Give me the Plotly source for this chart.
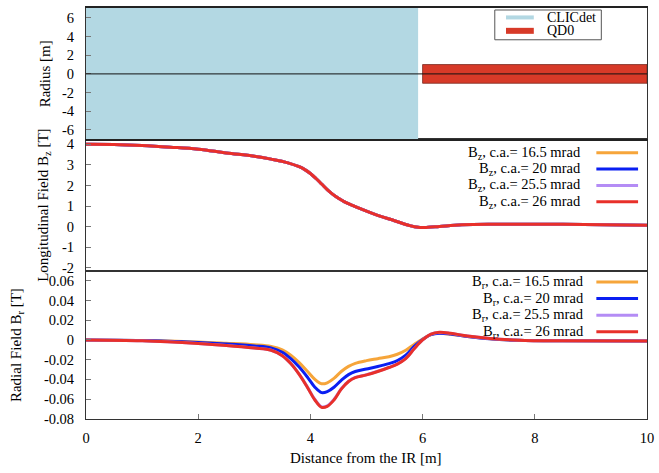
import plotly.graph_objects as go

# ---------------- data ----------------
# Geometry panel
region_names = ["CLICdet", "QD0"]
region_z_start = [0.0, 6.0]
region_z_end = [5.92, 10.0]
region_radius = [7.1, 1.0]
region_colors = ["#b3d8e3", "#d73a28"]

# Longitudinal field Bz [T]
bz_z = [0.0, 0.5, 1.0, 1.5, 2.0, 2.5, 3.0, 3.3, 3.6, 3.8, 3.9, 4.0, 4.1, 4.2, 4.3, 4.4, 4.5, 4.6, 4.75, 4.9,
        5.2, 5.5, 5.75, 5.92, 6.1, 6.3, 6.7, 7.3, 8.5, 10.0]
bz_165 = [4.0, 3.99, 3.94, 3.86, 3.76, 3.58, 3.42, 3.28, 3.1, 2.91, 2.77, 2.58, 2.34, 2.07, 1.8, 1.57, 1.38, 1.22, 1.03, 0.86,
          0.55, 0.29, 0.07, -0.03, -0.03, 0.01, 0.09, 0.12, 0.12, 0.07]
bz_20 = [4.0, 3.99, 3.94, 3.86, 3.76, 3.58, 3.42, 3.28, 3.1, 2.91, 2.77, 2.58, 2.34, 2.07, 1.8, 1.57, 1.38, 1.22, 1.03, 0.86,
         0.55, 0.29, 0.07, -0.03, -0.03, 0.01, 0.09, 0.12, 0.12, 0.07]
bz_255 = [4.0, 3.99, 3.94, 3.86, 3.76, 3.58, 3.42, 3.28, 3.1, 2.91, 2.77, 2.58, 2.34, 2.07, 1.8, 1.57, 1.38, 1.22, 1.03, 0.86,
          0.55, 0.29, 0.07, -0.03, -0.03, 0.01, 0.09, 0.12, 0.12, 0.07]
bz_26 = [4.0, 3.99, 3.94, 3.86, 3.76, 3.58, 3.42, 3.28, 3.1, 2.91, 2.77, 2.58, 2.34, 2.07, 1.8, 1.57, 1.38, 1.22, 1.03, 0.86,
         0.55, 0.29, 0.07, -0.03, -0.03, 0.01, 0.09, 0.12, 0.12, 0.07]

# Radial field Br [T]
br_z = [0.0, 1.0, 2.0, 2.5, 3.0, 3.3, 3.5, 3.65, 3.8, 3.95, 4.08, 4.2, 4.3, 4.42, 4.55, 4.68, 4.8,
        5.0, 5.2, 5.4, 5.55, 5.7, 5.85, 6.0, 6.15, 6.3, 6.5, 6.8, 7.2, 7.7, 8.5, 10.0]
br_165 = [0.0, -0.0005, -0.002, -0.0033, -0.0048, -0.0065, -0.010, -0.0155, -0.023, -0.032, -0.040, -0.0445, -0.0435, -0.039, -0.032, -0.0268, -0.0237,
          -0.021, -0.019, -0.017, -0.0145, -0.0105, -0.0045, 0.001, 0.0055, 0.0068, 0.0058, 0.0035, 0.0012, -0.0003, -0.0009, -0.001]
br_20 = [0.0, -0.0005, -0.0025, -0.004, -0.006, -0.008, -0.0125, -0.019, -0.0275, -0.038, -0.048, -0.0535, -0.0525, -0.048, -0.041, -0.0352, -0.0320,
         -0.0295, -0.027, -0.024, -0.021, -0.0155, -0.0065, 0.0005, 0.0055, 0.0068, 0.006, 0.0036, 0.0012, -0.0003, -0.0009, -0.001]
br_255 = [0.0, -0.0008, -0.0035, -0.0055, -0.0082, -0.0105, -0.016, -0.024, -0.0348, -0.0482, -0.0605, -0.068, -0.067, -0.0605, -0.0495, -0.0420, -0.0380,
          -0.0353, -0.0318, -0.0278, -0.0243, -0.0188, -0.0089, 0.0, 0.0059, 0.0076, 0.0067, 0.004, 0.0015, -0.0002, -0.0009, -0.001]
br_26 = [0.0, -0.0008, -0.0035, -0.0055, -0.0082, -0.0105, -0.016, -0.024, -0.035, -0.0485, -0.061, -0.0685, -0.0675, -0.061, -0.050, -0.0422, -0.0382,
         -0.0355, -0.032, -0.028, -0.0245, -0.019, -0.009, 0.0, 0.006, 0.0078, 0.0068, 0.004, 0.0015, -0.0002, -0.0009, -0.001]

angle_labels = ["16.5", "20", "25.5", "26"]
series_colors = ["#f6a53a", "#0a1ff2", "#b48cf5", "#e8302a"]

# Tick labels
x_ticks = [0, 2, 4, 6, 8, 10]
r_ticks = [-6, -4, -2, 0, 2, 4, 6]
r_tick_text = ["-6", "-4", "-2", "0", "2", "4", "6"]
bz_ticks = [-2, -1, 0, 1, 2, 3, 4]
bz_tick_text = ["-2", "-1", "0", "1", "2", "3", "4"]
br_ticks = [-0.08, -0.06, -0.04, -0.02, 0, 0.02, 0.04, 0.06]
br_tick_text = ["-0.08", "-0.06", "-0.04", "-0.02", "0", "0.02", "0.04", "0.06"]

# ---------------- figure ----------------
W, H = 659, 473
ML, MR, MT, MB = 86, 8, 5, 54
PW, PH = W - ML - MR, H - MT - MB


def px_x(px):
    return (px - ML) / PW


def px_y(py):
    return (H - MB - py) / PH


FONT = "Liberation Serif"
AX = "#333333"
FS = 15
LFS = 14.5

dom_bot = [0, px_y(270.3)]
dom_mid = [px_y(270.3), px_y(137.3)]
dom_top = [px_y(137.3), 1]

fig = go.Figure()

# Geometry panel (x3 / y3)
for name, z0, z1, r, c in zip(region_names, region_z_start, region_z_end, region_radius, region_colors):
    fig.add_trace(go.Scatter(
        x=[z0, z1, z1, z0, z0], y=[-r, -r, r, r, -r],
        fill="toself", fillcolor=c, mode="lines",
        line=dict(color=c if name == "CLICdet" else "#7a2a20", width=0 if name == "CLICdet" else 0.8),
        name=name, xaxis="x3", yaxis="y3", showlegend=False, hoverinfo="name"))

# Bz panel (x2 / y2)
for lab, col, ys in zip(angle_labels, series_colors, [bz_165, bz_20, bz_255, bz_26]):
    fig.add_trace(go.Scatter(
        x=bz_z, y=ys, mode="lines", line=dict(color=col, width=3, shape="spline", smoothing=1.1),
        name=f"B<sub>z</sub>, c.a.= {lab} mrad", xaxis="x2", yaxis="y2", showlegend=False))

# Br panel (x / y)
for lab, col, ys in zip(angle_labels, series_colors, [br_165, br_20, br_255, br_26]):
    fig.add_trace(go.Scatter(
        x=br_z, y=ys, mode="lines", line=dict(color=col, width=3, shape="spline", smoothing=1.0),
        name=f"B<sub>r</sub>, c.a.= {lab} mrad", xaxis="x", yaxis="y", showlegend=False))

common_axis = dict(showgrid=False, zeroline=False, showline=True, linecolor=AX, linewidth=1,
                   mirror=True, tickfont=dict(family=FONT, size=14.5, color="black"))

fig.update_layout(
    width=W, height=H,
    margin=dict(l=ML, r=MR, t=MT, b=MB),
    paper_bgcolor="white", plot_bgcolor="white",
    font=dict(family=FONT, size=FS, color="black"),
    showlegend=False,
    xaxis=dict(common_axis, domain=[0, 1], range=[0, 10], anchor="y",
               tickvals=x_ticks, ticks="inside", ticklen=5, tickcolor="#777777",
               ticklabelstandoff=6),
    yaxis=dict(common_axis, domain=dom_bot, range=[-0.0803, 0.0697], anchor="x",
               tickvals=br_ticks, ticktext=br_tick_text, ticks="inside", ticklen=5,
               tickcolor="#777777", ticklabelstandoff=8),
    xaxis2=dict(common_axis, domain=[0, 1], range=[0, 10], anchor="y2", showticklabels=False),
    yaxis2=dict(common_axis, domain=dom_mid, range=[-2.17, 4.24], anchor="x2",
                tickvals=bz_ticks, ticktext=bz_tick_text, ticks="inside", ticklen=5,
                tickcolor="#777777", ticklabelstandoff=8),
    xaxis3=dict(common_axis, domain=[0, 1], range=[0, 10], anchor="y3", showticklabels=False,
                linewidth=2, linecolor="#222222"),
    yaxis3=dict(common_axis, domain=dom_top, range=[-7.0, 7.05], anchor="x3",
                tickvals=r_ticks, ticktext=r_tick_text, ticks="inside", ticklen=5,
                tickcolor="#777777", ticklabelstandoff=8),
)

shapes = []
annotations = []

# zero line over the geometry
shapes.append(dict(type="line", xref="x3 domain", yref="y3", x0=0, x1=1, y0=0, y1=0,
                   line=dict(color="#111111", width=1), layer="above"))

# Axis titles
title_common = dict(xref="paper", yref="paper", xanchor="center", yanchor="middle",
                    showarrow=False, font=dict(family=FONT, size=FS))
annotations += [
    dict(title_common, text="Radius [m]", x=px_x(45), y=px_y(71.5), textangle=-90),
    dict(title_common, text="Longitudinal Field B<sub>z</sub> [T]", x=px_x(43), y=px_y(204), textangle=-90),
    dict(title_common, text="Radial Field B<sub>r</sub> [T]", x=px_x(16), y=px_y(344), textangle=-90),
    dict(title_common, text="Distance from the IR [m]", x=px_x(368), y=px_y(458)),
]

# Geometry legend (boxed, upper right)
shapes.append(dict(type="rect", xref="paper", yref="paper",
                   x0=px_x(497.7), x1=px_x(605), y0=px_y(37), y1=px_y(7),
                   line=dict(color="#555555", width=1), fillcolor="white", layer="above"))
for i, (name, c) in enumerate(zip(region_names, region_colors)):
    yy = 14.5 + 13.5 * i
    shapes.append(dict(type="line", xref="paper", yref="paper",
                       x0=px_x(509), x1=px_x(537), y0=px_y(yy), y1=px_y(yy),
                       line=dict(color=c, width=4 if i == 0 else 6), layer="above"))
    annotations.append(dict(text=name, x=px_x(548), y=px_y(yy), xref="paper", yref="paper",
                            xanchor="left", yanchor="middle", showarrow=False,
                            font=dict(family=FONT, size=14)))

# Bz legend
for i, (lab, col) in enumerate(zip(angle_labels, series_colors)):
    yy = 150.7 + 16.5 * i
    shapes.append(dict(type="line", xref="paper", yref="paper",
                       x0=px_x(600), x1=px_x(642), y0=px_y(yy), y1=px_y(yy),
                       line=dict(color=col, width=3), layer="above"))
    annotations.append(dict(text=f"B<sub>z</sub>, c.a.= {lab} mrad", x=px_x(587), y=px_y(yy),
                            xref="paper", yref="paper", xanchor="right", yanchor="middle",
                            showarrow=False, font=dict(family=FONT, size=LFS)))

# Br legend
for i, (lab, col) in enumerate(zip(angle_labels, series_colors)):
    yy = 281 + 16.7 * i
    shapes.append(dict(type="line", xref="paper", yref="paper",
                       x0=px_x(600), x1=px_x(642), y0=px_y(yy), y1=px_y(yy),
                       line=dict(color=col, width=3), layer="above"))
    annotations.append(dict(text=f"B<sub>r</sub>, c.a.= {lab} mrad", x=px_x(590), y=px_y(yy),
                            xref="paper", yref="paper", xanchor="right", yanchor="middle",
                            showarrow=False, font=dict(family=FONT, size=LFS)))

fig.update_layout(shapes=shapes, annotations=annotations)

fig.write_html("out.html")
